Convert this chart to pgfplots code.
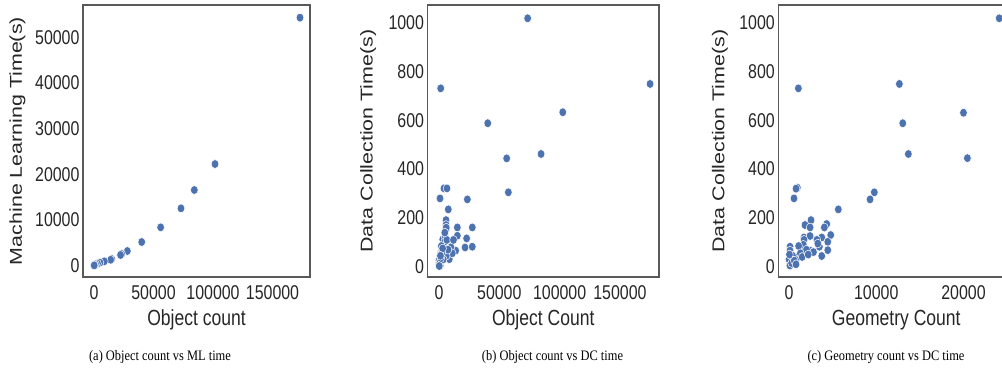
\documentclass[border=0pt]{standalone}
\usepackage{fontspec}
\setmainfont{Liberation Sans}
\newfontfamily\axfont{Liberation Sans}[FakeStretch=0.8]
\newfontfamily\ylfont{Liberation Sans}
\newfontfamily\capfont{Liberation Serif}[FakeStretch=0.86]
\usepackage{graphicx}
\usepackage{pgfplots}
\pgfplotsset{compat=1.18}
\definecolor{sbblue}{HTML}{4C72B0}
\definecolor{txt}{HTML}{262626}

\pgfplotstableread{
x y
173100 54300
101700 22260
84300 16570
73100 12560
56000 8400
40100 5190
28000 3220
23300 2560
22300 2350
14900 1470
14000 1300
8700 960
5000 660
3000 450
1400 300
500 120
0 50
200 80
}\tabA

\pgfplotstableread{
x y
73500 1018
1400 731
175000 749
102600 633
40400 588
84600 462
56100 444
57500 305
4100 321
6600 321
830 280
23500 276
7700 235
5800 191
5800 171
15200 161
27600 161
15200 127
22900 116
3100 112
9100 98
4400 75
13800 66
21600 79
27600 82
5000 66
8500 31
830 18
1400 55
3700 90
5800 150
5000 125
9900 80
11000 55
0 25
300 10
2000 40
6000 45
1000 5
500 15
2500 60
3500 30
4500 100
6500 110
2000 85
7500 70
1500 35
200 3
12000 110
6000 160
4800 140
3000 75
1200 45
}\tabB

\pgfplotstableread{
x y
24100 1018
1070 731
12650 749
20000 631
13040 588
13680 462
20450 445
950 324
800 320
570 280
9780 305
9290 276
5650 235
2520 191
1830 171
2410 161
4320 175
4050 161
1720 120
2410 126
3750 120
4780 130
4440 102
3480 82
4440 68
3750 44
2410 66
1720 110
1640 68
950 38
115 82
115 66
195 20
1640 90
1100 85
3200 110
3300 95
2000 70
400 45
0 30
1300 55
2800 60
100 5
300 15
600 25
1500 40
2200 50
800 10
50 50
}\tabC

\pgfplotsset{sbstyle/.style={
  scale only axis, anchor=south west,
  axis line style={draw=black!65, line width=1.2bp},
  major tick length=0pt, tick style={draw=none},
  scaled ticks=false,
  /pgf/number format/fixed, /pgf/number format/1000 sep={},
  /pgf/number format/assume math mode=true,
  ticklabel style={font=\axfont\fontsize{20}{22}\selectfont, text=txt},
  xticklabel style={yshift=-5bp},
  every axis x label/.style={at={(axis description cs:0.5,-0.158)}, anchor=center,
     font=\axfont\fontsize{22}{24}\selectfont, text=txt},
  every axis y label/.style={anchor=center, text=txt},
  height=272bp,
}}
\newcommand{\ylab}[1]{\scalebox{0.8}[1]{\rotatebox{90}{\ylfont\fontsize{21.5}{24}\selectfont #1}}}

\begin{document}
\begin{tikzpicture}
\begin{axis}[sbstyle, at={(83bp,93bp)}, width=227bp,
  xmin=-9240, xmax=181500, ymin=-2470, ymax=57070,
  xtick={0,50000,100000,150000}, ytick={0,10000,20000,30000,40000,50000},
  xlabel={Object count},
  ylabel={\ylab{Machine Learning Time(s)}},
  every axis y label/.append style={at={(axis description cs:-0.2885,0.5)}}]
\addplot[only marks, mark=*, mark size=4.4bp, mark options={xscale=0.87, fill=sbblue, draw=white, line width=0.5bp}] table[x=x,y=y] {\tabA};
\end{axis}

\begin{axis}[sbstyle, at={(427.5bp,93bp)}, width=231.5bp,
  xmin=-9540, xmax=182400, ymin=-42, ymax=1072.5,
  xtick={0,50000,100000,150000}, ytick={0,200,400,600,800,1000},
  xlabel={Object Count},
  ylabel={\ylab{Data Collection Time(s)}},
  every axis y label/.append style={at={(axis description cs:-0.256,0.5)}}]
\addplot[only marks, mark=*, mark size=4.4bp, mark options={xscale=0.87, fill=sbblue, draw=white, line width=0.5bp}] table[x=x,y=y] {\tabB};
\end{axis}

\begin{axis}[sbstyle, at={(778.3bp,93bp)}, width=236bp,
  xmin=-1230, xmax=25830, ymin=-42, ymax=1072.5,
  xtick={0,10000,20000}, ytick={0,200,400,600,800,1000},
  xlabel={Geometry Count},
  ylabel={\ylab{Data Collection Time(s)}},
  every axis y label/.append style={at={(axis description cs:-0.247,0.5)}}]
\addplot[only marks, mark=*, mark size=4.4bp, mark options={xscale=0.87, fill=sbblue, draw=white, line width=0.5bp}] table[x=x,y=y] {\tabC};
\end{axis}

\node[font=\capfont\fontsize{14.5}{16}\selectfont] at (160bp,13bp) {(a) Object count vs ML time};
\node[font=\capfont\fontsize{14.5}{16}\selectfont] at (552.5bp,13bp) {(b) Object count vs DC time};
\node[font=\capfont\fontsize{14.5}{16}\selectfont] at (886bp,13bp) {(c) Geometry count vs DC time};

\pgfresetboundingbox
\useasboundingbox (0,0) rectangle (1002bp,370bp);
\end{tikzpicture}
\end{document}
